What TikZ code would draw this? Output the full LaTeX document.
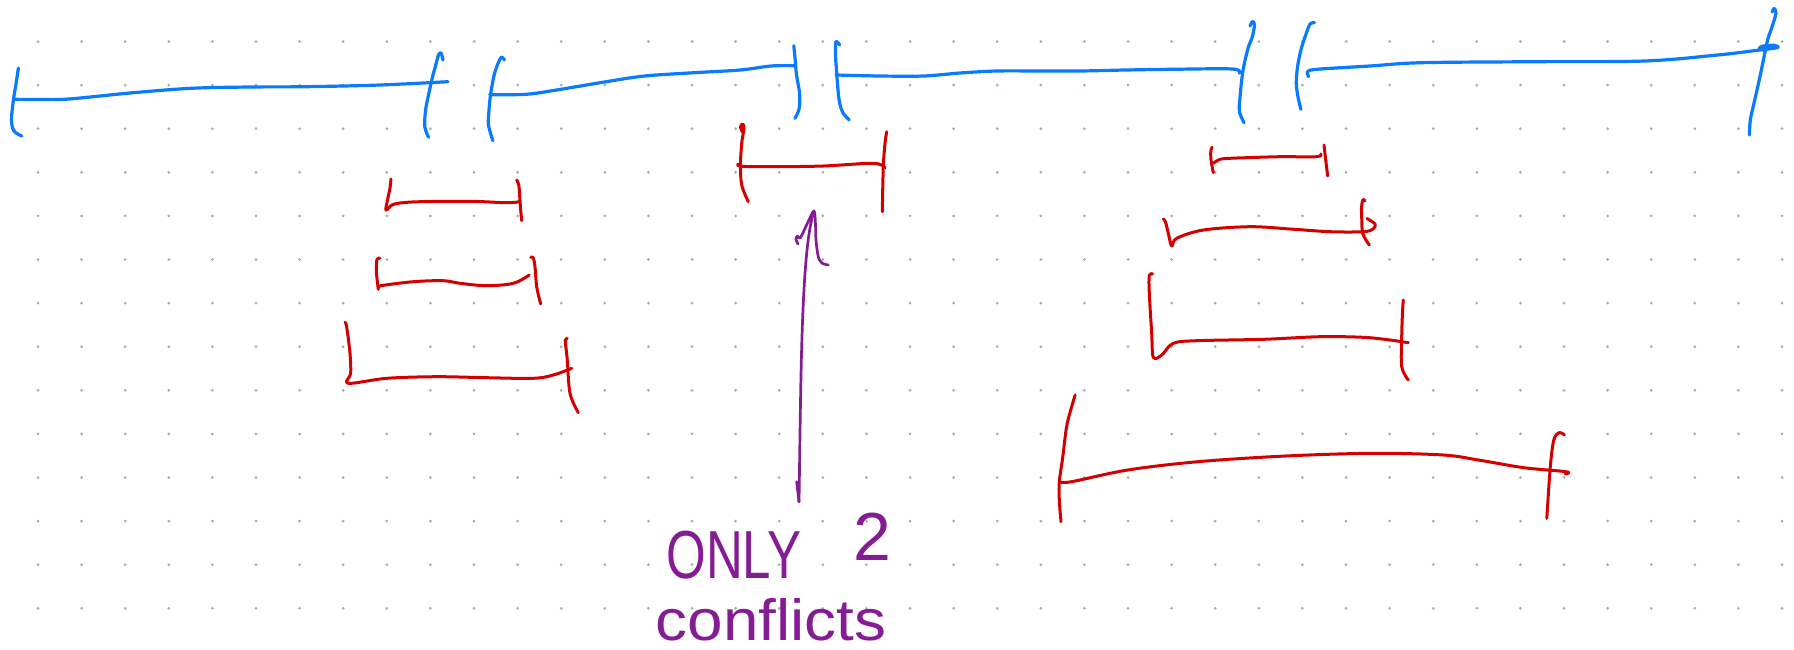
\documentclass[tikz,border=0pt]{standalone}
\usepackage{fontspec}
\setmainfont{Liberation Sans}
\definecolor{inkblue}{RGB}{10,122,255}
\definecolor{inkred}{RGB}{212,0,0}
\definecolor{inkpurple}{RGB}{132,28,148}
\definecolor{dotgray}{RGB}{170,170,170}
\begin{document}
\begin{tikzpicture}[x=1pt,y=-1pt,
  pen/.style={line cap=round,line join=round},
  bluepen/.style={pen,draw=inkblue,line width=3.2pt},
  redpen/.style={pen,draw=inkred,line width=3pt},
  purplepen/.style={pen,draw=inkpurple,line width=2.7pt},
  ink/.style={smooth,tension=0.55},
  gridpt/.style={fill=dotgray},
  handtext/.style={text=inkpurple,inner sep=0pt,anchor=base}]
% page
\fill[white] (0,0) rectangle (1794,649);
\useasboundingbox (0,0) rectangle (1794,649);
% dotted paper
\foreach \i in {0,...,40}{
  \foreach \j in {0,...,13}{
    \fill[gridpt] ({38+43.6*\i},{41.5+43.6*\j}) circle (1.5pt);
  }
}
% ---------- blue intervals (top row) ----------
% interval 1
\draw[bluepen] plot[ink] coordinates {(18.4,68) (16,84) (13.4,100) (11.5,120) (14,131) (21.8,136)};
\draw[bluepen] plot[ink] coordinates {(15,99.3) (40,99.5) (69,99) (130,93) (191,88.3) (250,87) (306,86.7) (380,85) (448,81.7)};
\draw[bluepen] plot[ink] coordinates {(443,60) (441,53) (438.5,55) (435.5,66) (432.5,77) (428.5,95) (425.6,110) (424.8,126.7) (428.6,137.3)};
% interval 2
\draw[bluepen] plot[ink] coordinates {(504.4,60) (501.3,57.3) (497,66) (493.7,77) (490.5,95) (489,110) (488.5,125) (492.9,140.7)};
\draw[bluepen] plot[ink] coordinates {(489.6,94.7) (525.9,94.3) (556.5,90) (606.3,81.7) (644.6,76) (694.3,72.7) (740.2,70) (770.9,66) (793.8,65.7)};
\draw[bluepen] plot[ink] coordinates {(793.8,45.7) (795.2,60) (796.5,75) (799.6,93.3) (799.2,108.3) (795,118.3)};
% interval 3
\draw[bluepen] plot[ink] coordinates {(839.7,45) (835.9,41.7) (835.5,55) (836.7,73.3) (838,90) (839.7,103.3) (843,113) (849.3,120)};
\draw[bluepen] plot[ink] coordinates {(835.9,75) (880,76) (923.9,76) (960,73) (996.6,71) (1040,71) (1080,71) (1125.5,70) (1171,69.3) (1232.5,69) (1239.4,73.3)};
\draw[bluepen] plot[ink] coordinates {(1250,26) (1252.5,21.5) (1254.5,25) (1252,38) (1248.5,46.7) (1244,65) (1241.7,80) (1239.8,100) (1239.4,111.7) (1244,122.7)};
% interval 4
\draw[bluepen] plot[ink] coordinates {(1314.5,22.7) (1310,24) (1305,37) (1300.9,50) (1297.5,67) (1296.3,83.3) (1298,97) (1300.9,109.3)};
\draw[bluepen] plot[ink] coordinates {(1308.6,76.7) (1307.7,71.7) (1316.8,69.3) (1370,66) (1421.5,62.7) (1535.4,61.7) (1644.7,61) (1717.5,55) (1754,50.7) (1777,47.7) (1774,45.3) (1762,46.3) (1759.5,48.8) (1765,50.5)};
\draw[bluepen] plot[ink] coordinates {(1772.2,12) (1774,8.5) (1776,13) (1772,27) (1767.6,40) (1763,62) (1758.5,83.3) (1754,103) (1750.3,120) (1749.4,135)};
% ---------- red intervals ----------
% left stack
\draw[redpen] plot[ink] coordinates {(391,179) (390,188) (387.5,200) (386,210) (392,205) (400,203) (420,201.7) (470,201.3) (506.7,202.7) (519.3,201.7)};
\draw[redpen] plot[ink] coordinates {(516.7,180) (518.8,185) (519.7,196) (520.6,209) (521.7,220.7)};
\draw[redpen] plot[ink] coordinates {(380,258.3) (376.9,259.5) (376.5,273) (378.3,289.3)};
\draw[redpen] plot[ink] coordinates {(379,287) (382,285.5) (413.3,281.7) (443.3,280.7) (460,283.3) (486.7,285.7) (513.3,283.3) (529.3,275)};
\draw[redpen] plot[ink] coordinates {(530.7,257.3) (533.3,257.8) (535,266.7) (536.7,286.7) (540.7,304)};
\draw[redpen] plot[ink] coordinates {(345,322.3) (346.7,327) (350,353.3) (350.7,373.3) (348.3,383.3) (386.7,378.3) (436.7,376.7) (486.7,377.7) (533.3,378.3) (553.3,375) (571.7,368.3)};
\draw[redpen] plot[ink] coordinates {(567.3,338.3) (565.2,340.5) (566,348) (567.3,360) (570,393.3) (578.3,412.7)};
% middle
\draw[redpen] plot[ink] coordinates {(742.5,132) (740.5,127) (742.5,124) (744,128) (741.7,143.3) (740.5,165) (741.7,185) (748.3,201.7)};
\draw[redpen] plot[ink] coordinates {(738.3,164) (741,166.3) (773.3,166.7) (823.3,166) (873.3,163.3) (885,167.7)};
\draw[redpen] plot[ink] coordinates {(886.7,131.7) (885,143.3) (883.3,166.7) (882.3,211.7)};
% right stack
\draw[redpen] plot[ink] coordinates {(1212,147.3) (1210.8,151) (1211,160) (1213.3,172.7)};
\draw[redpen] plot[ink] coordinates {(1213.3,163.3) (1220,159.3) (1230,158.3) (1243.3,157.8) (1280,156.7) (1316.7,156.7) (1320.7,154)};
\draw[redpen] plot[ink] coordinates {(1324,145) (1325.7,160) (1327.7,176)};
\draw[redpen] plot[ink] coordinates {(1163.3,219) (1165.5,222) (1168.3,233.3) (1171.7,246) (1176.7,238.3) (1203.3,230) (1250,226.7) (1290,229) (1330,231.7) (1363.3,231.7) (1373,229) (1375,224) (1367,218.5)};
\draw[redpen] plot[ink] coordinates {(1365,201) (1363,199.5) (1361.5,207) (1361.7,216.7) (1362.7,233.3) (1369.3,245)};
\draw[redpen] plot[ink] coordinates {(1152.7,274) (1149.3,275.5) (1149.3,293.3) (1151.7,333.3) (1153.3,357.3) (1161.7,355) (1173.3,343.3) (1196.7,340.7) (1263.3,339.3) (1320,336.7) (1363.3,337.3) (1390,340) (1408.3,342.7)};
\draw[redpen] plot[ink] coordinates {(1403.3,300) (1402.5,312) (1401.7,336.7) (1401.7,366.7) (1408.3,380)};
% long bottom interval
\draw[redpen] plot[ink] coordinates {(1075.1,395) (1069.8,413.3) (1066.3,428.3) (1062.8,456.7) (1059.3,481.7) (1059.3,500) (1061,521.7)};
\draw[redpen] plot[ink] coordinates {(1059.3,481.7) (1071.6,481.7) (1127.7,470) (1197.8,461.7) (1285.5,456) (1373.2,453.3) (1443.4,455) (1478.4,460) (1524,467.7) (1566.1,471.7) (1565.4,474)};
\draw[redpen] plot[ink] coordinates {(1564.4,435) (1559.1,432.7) (1553.8,440) (1550.3,466.7) (1546.8,518.3)};
% ---------- purple note ----------
\node[handtext,font=\fontsize{68}{68}\selectfont] (only) at (734,578) {\scalebox{0.75}[1]{ONLY}};
\node[handtext,font=\fontsize{68}{68}\selectfont] (two) at (872,560) {2};
\node[handtext,font=\fontsize{58}{58}\selectfont] (conf) at (771,640) {\scalebox{1.1}[1]{conflicts}};
\coordinate (tail) at (799,501.7);
\coordinate (tip) at (814,211);
\draw[purplepen] (tail) .. controls (801,380) and (801,250) .. (tip);
\draw[purplepen] (796.7,481.7) -- (tail);
\draw[purplepen] plot[ink] coordinates {(798,244) (796,239.5) (797.5,236) (800.5,237.5) (808,222) (tip) (815.5,225) (816,240) (818.3,256.7) (822,263) (828.3,265)};
\end{tikzpicture}
\end{document}
